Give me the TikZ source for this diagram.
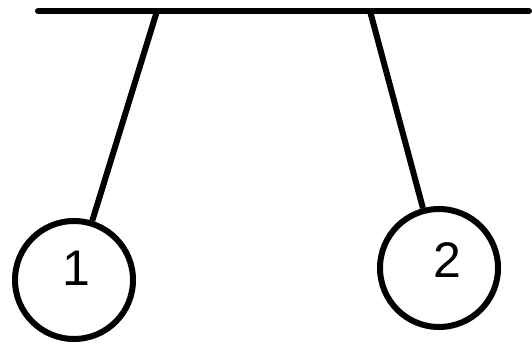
\documentclass[tikz,border=0pt]{standalone}
\usepackage{fontspec}
\setmainfont{Liberation Sans}

\begin{document}
\begin{tikzpicture}[x=1pt, y=-1pt, line width=6pt,
  bob/.style={draw, circle, minimum size=118pt, inner sep=0pt},
  num/.style={font=\fontsize{50}{50}\selectfont, inner sep=0pt}]
\useasboundingbox (0,0) rectangle (532,347);
\coordinate (barL) at (38,11);
\coordinate (barR) at (529,11);
\coordinate (hook1) at (157,11);
\coordinate (hook2) at (370,11);
\draw[line cap=round] (barL) -- (barR);
\node[bob] (bob1) at (74,280){};
\node[bob] (bob2) at (439,268){};
\node[num] (num1) at (76,268){1};
\node[num] (num2) at (447,260){2};
\draw (hook1) -- (bob1);
\draw (hook2) -- (bob2);
\end{tikzpicture}
\end{document}
